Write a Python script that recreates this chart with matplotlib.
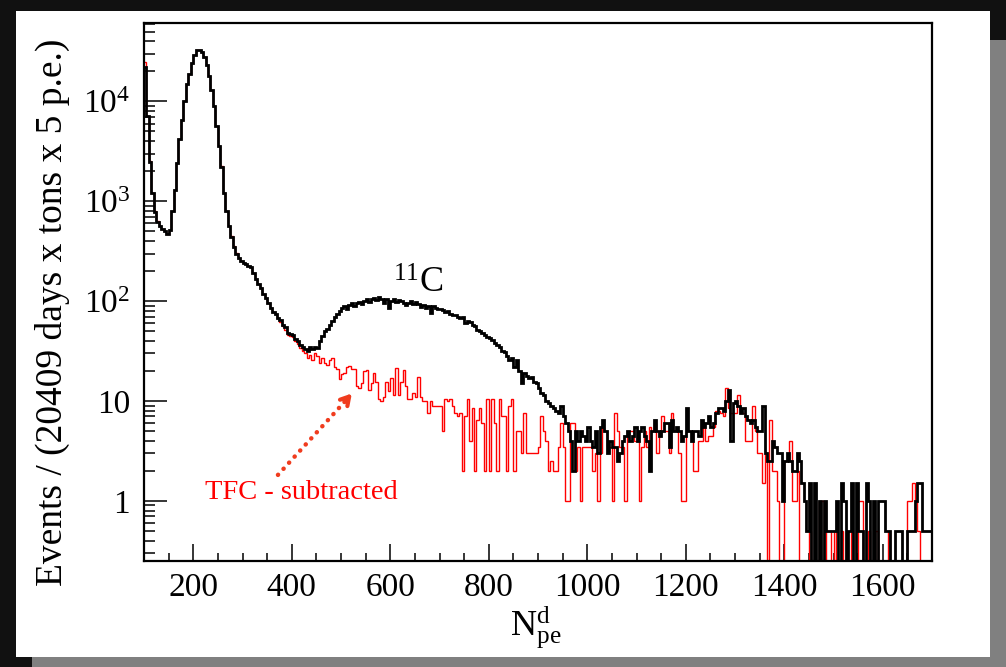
import numpy as np
import matplotlib
matplotlib.use("Agg")
import matplotlib.pyplot as plt
from matplotlib.patches import Rectangle
from matplotlib.ticker import LogLocator, FixedLocator, MultipleLocator, FuncFormatter, NullFormatter

# ---------------- data (5 p.e. bins from 100 to 1700) ----------------
BIN_START = 100
BIN_WIDTH = 5

black_counts = [
    22000, 7200, 2500, 1200, 780, 620, 560, 530, 500, 470, 520, 800, 1300, 2400, 4200, 6500, 10000, 15000, 19000, 24000,
    29000, 32500, 33000, 31000, 28000, 23000, 18000, 13000, 9100, 5700, 3600, 2200, 1200, 800, 560, 440, 350, 300, 270, 250,
    240, 236, 226, 218, 192, 168, 150, 134, 118, 108, 95, 86, 78, 75, 68, 65, 58, 55, 48, 47,
    46, 42, 40, 36, 35, 33, 32, 35, 33, 35, 34, 40, 45, 50, 53, 58, 64, 70, 74, 80,
    86, 89, 84, 92, 95, 90, 96, 98, 94, 100, 104, 98, 106, 108, 102, 110, 105, 96, 104, 86,
    100, 104, 98, 102, 100, 96, 92, 96, 100, 94, 97, 93, 88, 92, 86, 90, 76, 90, 86, 84,
    84, 82, 78, 80, 74, 72, 73, 70, 68, 70, 60, 64, 62, 58, 56, 52, 50, 48, 46, 44,
    43, 41, 38, 36, 35, 32, 31, 28, 26, 27, 22, 26, 20, 15, 19, 18, 17, 17.5, 15.5, 15,
    13.5, 12, 11.5, 10, 9.5, 9, 8.5, 8, 7.5, 9, 7, 6, 5, 4, 2, 5, 4, 5, 4.5, 4,
    5.5, 4, 3.5, 5, 3, 5.5, 6.5, 5, 3, 4, 3.5, 3.5, 2.5, 3, 4, 4.5, 5, 4, 4.5, 5.5,
    4, 5, 5.5, 4.5, 4, 2, 5, 6.5, 5, 4.5, 5, 6, 6, 3.5, 6.5, 5, 5.5, 5, 4, 4.5,
    8.5, 5, 4, 5, 5, 4.5, 6.5, 5.5, 6, 7, 5.5, 6, 7.5, 8.5, 8.5, 8, 10, 13, 4, 9.5,
    10, 9, 7.5, 8.5, 7, 6.5, 6, 6.5, 5.5, 5, 5, 9, 3, 2.5, 2.5, 4, 3.5, 3, 3, 1,
    2.5, 3, 2.5, 2, 2, 3, 2.5, 1.5, 1, 0.5, 1.5, 0, 1.5, 0, 1, 0, 1, 0.5, 0.5, 0.5,
    0.5, 1, 0, 1.5, 1, 0, 0.5, 1.5, 0, 1.5, 0.5, 0.5, 0, 1.5, 1, 0, 1, 0, 1, 1,
    1, 0.5, 0.5, 0, 0, 0.5, 0.5, 0.5, 0, 0, 0.5, 0.5, 0.5, 1, 1.5, 1.5, 0.5, 0.5, 0.5, 0.5,
]

red_counts = [
    25000, 7200, 2550, 1200, 800, 630, 560, 530, 500, 470, 520, 800, 1300, 2400, 4200, 6500, 10000, 15000, 19000, 24000,
    29000, 32500, 33000, 31000, 28000, 23000, 18000, 13000, 9100, 5700, 3600, 2250, 1200, 800, 570, 450, 360, 305, 270, 255,
    242, 236, 226, 218, 192, 168, 150, 134, 118, 108, 95, 86, 78, 75, 68, 62, 56, 52, 46, 45,
    44, 40, 37, 34, 32, 30, 27, 29, 26, 30, 28, 24, 27, 24, 23, 26, 27, 22, 21, 16.5,
    18.5, 19, 22, 22.5, 21, 21, 14, 13.5, 15, 20, 20.5, 13, 15, 19, 15.5, 10.5, 10, 11, 15.5, 12.5,
    17, 11.5, 21.5, 11.5, 15.5, 20.5, 14, 10.5, 10.5, 12, 11, 17.5, 11, 10, 10, 7.5, 10, 9, 9, 9,
    9, 5, 10.5, 10, 10.5, 9, 7.5, 7, 7.5, 2, 7, 10.5, 4, 8.5, 2, 6.5, 8.5, 6, 2, 10.5,
    2, 10.5, 6, 2, 10.5, 7, 7, 2, 9, 10.5, 2, 5, 5, 3, 7.5, 3, 3, 3, 3, 3,
    3.5, 7, 5, 4, 2, 2.5, 2, 2, 3.5, 6, 3.5, 1, 1, 6, 6, 2, 3.5, 1, 3.5, 3.5,
    3.5, 3.5, 2, 3, 1, 3, 5.5, 5, 3.5, 3.5, 1, 7.5, 5, 3.5, 3.5, 1, 5, 5, 5, 4,
    4, 1, 3.5, 5, 3.5, 5.5, 5, 6, 3, 4.5, 7, 5, 5, 3, 7.5, 5, 5, 3, 1, 1,
    5, 5, 5, 2, 2, 4, 4, 5.5, 4, 4.5, 4.5, 5.5, 8, 8, 7.5, 7, 13.5, 8.5, 7.5, 7.5,
    7.5, 11.5, 8, 7.5, 4, 4, 4, 9, 5, 3, 3, 1.5, 3, 0, 6.5, 2, 2, 1, 0, 0,
    2.5, 2.5, 4, 1, 1, 2, 0, 0, 0, 0, 0.5, 0, 0, 0, 1, 1, 0, 0.5, 0.5, 0,
    0.5, 0, 0, 0.5, 0, 0, 0, 0.5, 0, 0, 1, 1, 0, 0, 0.5, 0, 0, 0.5, 0, 0,
    0, 0, 0.5, 0, 0, 0, 0, 0, 0, 0, 1, 1, 1.5, 1, 0.5, 0, 0, 0, 0, 0,
]

x_major_ticks = [200, 400, 600, 800, 1000, 1200, 1400, 1600]
y_major_ticks = [1, 10, 100, 1000, 10000]
y_tick_labels = ["1", "10", r"$10^{2}$", r"$10^{3}$", r"$10^{4}$"]

ylabel_text = "Events / (20409 days x tons x 5 p.e.)"
xlabel_text = r"$\mathrm{N}_{\mathrm{pe}}^{\mathrm{d}}$"
c11_text = r"$^{11}$C"
tfc_text = "TFC - subtracted"

# ---------------- style ----------------
plt.rcParams["font.family"] = ["Liberation Serif", "DejaVu Serif"]
plt.rcParams["mathtext.fontset"] = "custom"
plt.rcParams["mathtext.rm"] = "Liberation Serif"
plt.rcParams["mathtext.it"] = "Liberation Serif:italic"
plt.rcParams["mathtext.bf"] = "Liberation Serif:bold"

W, H = 1006, 667
fig = plt.figure(figsize=(W / 100, H / 100), dpi=100, facecolor="#111111")

def fr(x0, y0, x1, y1):
    return (x0 / W, 1 - y1 / H), (x1 - x0) / W, (y1 - y0) / H

for (xy, w, h), col in [(fr(16, 11, 990, 657), "white"),
                        (fr(990, 40, 1006, 667), "#808080"),
                        (fr(32, 657, 990, 667), "#808080")]:
    fig.patches.append(Rectangle(xy, w, h, transform=fig.transFigure,
                                 facecolor=col, edgecolor="none", zorder=-10))

ax = fig.add_axes([144 / W, 1 - 561 / H, (932 - 144) / W, (561 - 23) / H])
ax.set_zorder(5)
ax.set_facecolor("white")

edges = BIN_START + BIN_WIDTH * np.arange(len(black_counts) + 1)
blk = np.asarray(black_counts, dtype=float)
red = np.asarray(red_counts, dtype=float)
floor = 1e-3
ax.stairs(np.where(red > 0, red, floor), edges, color="#ff0000", lw=1.0, baseline=None, zorder=2)
ax.stairs(np.where(blk > 0, blk, floor), edges, color="black", lw=2.0, baseline=None, zorder=3)

ax.set_yscale("log")
ax.set_xlim(100, 1700)
ax.set_ylim(0.25, 6.1e4)

ax.xaxis.set_major_locator(FixedLocator(x_major_ticks))
ax.xaxis.set_minor_locator(MultipleLocator(50))
ax.yaxis.set_major_locator(FixedLocator(y_major_ticks))
ax.yaxis.set_minor_locator(LogLocator(base=10, subs=np.arange(2, 10)))
ax.yaxis.set_minor_formatter(NullFormatter())
ax.yaxis.set_major_formatter(FuncFormatter(
    lambda v, p: y_tick_labels[y_major_ticks.index(int(round(v)))] if int(round(v)) in y_major_ticks else ""))

ax.tick_params(which="both", direction="in", top=False, right=False, color="black", width=1.1)
ax.tick_params(axis="x", which="major", length=12, labelsize=24, pad=8)
ax.tick_params(axis="x", which="minor", length=6)
ax.tick_params(axis="y", which="major", length=16.5, labelsize=24, pad=10)
ax.tick_params(axis="y", which="minor", length=8)

for s in ax.spines.values():
    s.set_linewidth(1.6)
    s.set_color("black")

fig.text(52 / W, 1 - 312 / H, ylabel_text, rotation=90, ha="center", va="center", fontsize=27)
fig.text(536 / W, 1 - 626 / H, xlabel_text, ha="center", va="center", fontsize=26)

ax.text(606, 120, c11_text, fontsize=26, ha="left", va="baseline", color="black")
ax.text(224, 1.05, tfc_text, fontsize=20.5, ha="left", va="baseline", color="#ff0000")

arrow_col = "#f03c1e"
arrow_start = (372, 1.82)
arrow_end = (522, 11.9)
arrow_mid = (508, 9.9)
ax.annotate("", xy=arrow_mid, xytext=arrow_start,
            arrowprops=dict(arrowstyle="-", color=arrow_col, lw=3.2, linestyle=(0, (0.05, 1.8)),
                            capstyle="round", shrinkA=0, shrinkB=0))
ax.annotate("", xy=arrow_end, xytext=arrow_mid,
            arrowprops=dict(arrowstyle="->,head_length=0.6,head_width=0.35", color=arrow_col, lw=3,
                            shrinkA=0, shrinkB=0))

fig.savefig("out.png", dpi=100, facecolor=fig.get_facecolor())
